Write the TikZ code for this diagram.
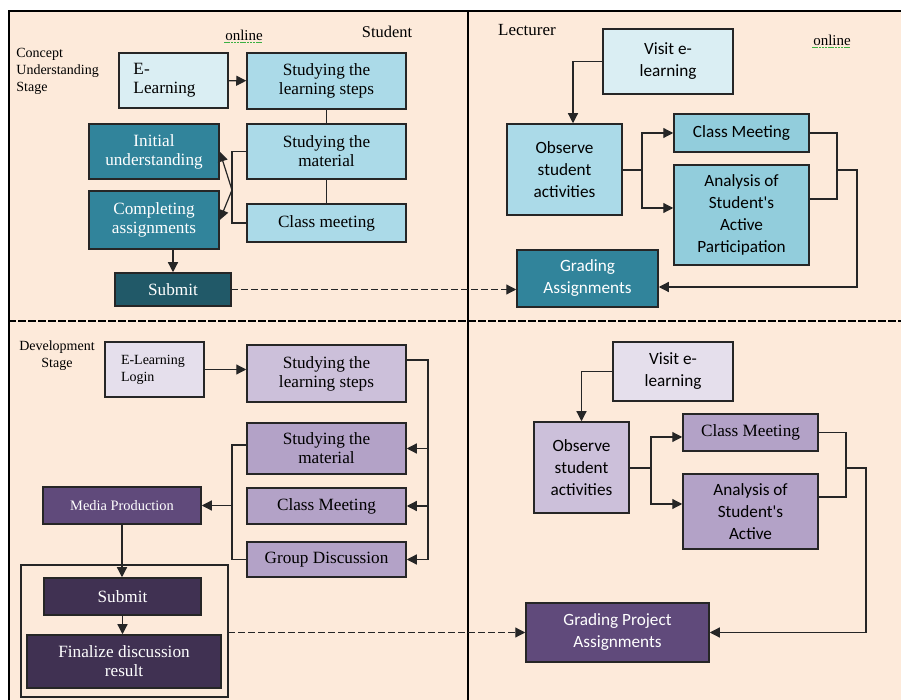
\documentclass[tikz,border=0pt]{standalone}
\usepackage{fontspec}
\setmainfont{Liberation Serif}
\newfontfamily\calib{Carlito}
\usepackage{xcolor}
\usepackage{tikz}
\usetikzlibrary{arrows.meta,positioning,fit,calc}
\definecolor{bgpeach}{HTML}{FDEADA}
\definecolor{aquapale}{HTML}{DAEEF3}
\definecolor{aqualight}{HTML}{ABDAE8}
\definecolor{aquamid}{HTML}{92CDDC}
\definecolor{tealdark}{HTML}{31849B}
\definecolor{tealdeep}{HTML}{215968}
\definecolor{lavpale}{HTML}{E5DFEC}
\definecolor{lavlight}{HTML}{CCC0DA}
\definecolor{lavmid}{HTML}{B3A2C7}
\definecolor{plumdark}{HTML}{604A7B}
\definecolor{plumdeep}{HTML}{403152}
\definecolor{squiggle}{HTML}{3CB043}

\begin{document}
\begin{tikzpicture}[
			x=0.5pt,
			y=-0.5pt,
			line cap=rect,
			box/.style={draw=black!85,line width=0.75pt,inner sep=1pt,align=center,
				font=\fontsize{8.6}{9.5}\selectfont},
			sbox/.style={box,font=\calib\fontsize{8.6}{11}\selectfont},
			lbl/.style={inner sep=0pt,font=\fontsize{7}{8.5}\selectfont},
			link/.style={draw=black!85,line width=0.6pt},
			arr/.style={link,-{Triangle[length=5pt,width=5pt]}},
			dashlink/.style={arr,dash pattern=on 3pt off 2pt}
			]
			
			\useasboundingbox (0,0) rectangle (901,700);
			
			%------------------------------
			% Page and lanes
			%------------------------------
			\fill[white] (0,0) rectangle (901,700);
			\fill[bgpeach] (9,11) rectangle (901,700);
			\draw[line width=1.2pt] (9,700) -- (9,11) -- (901,11);
			\draw[line width=0.6pt] (468,11) -- (468,700);
			\draw[line width=0.6pt,dash pattern=on 3pt off 2pt] (9,321) -- (901,321);
			
			%------------------------------
			% Concept understanding, student
			%------------------------------
			\node[lbl,anchor=west,align=left] (stageA) at (16,71) {Concept\\Understanding\\Stage};
			\node[lbl,font=\fontsize{7.5}{9}\selectfont] (onlA) at (244,35) {online};
			\draw[squiggle,densely dotted,line width=0.6pt] ([yshift=-1pt]onlA.south west) -- ([yshift=-1pt]onlA.south east);
			\node[lbl,font=\fontsize{8.2}{9}\selectfont] (studA) at (387,32) {Student};
			
			\node[box,fill=aquapale,minimum width=54.5pt,minimum height=27.5pt,text width=40pt,align=left] (elearnA) at (173.5,80.5) {E-\\Learning};
			\node[box,fill=aqualight,minimum width=79.5pt,minimum height=28pt] (stepsA) at (326.5,81) {Studying the\\learning steps};
			\node[box,fill=aqualight,minimum width=79.5pt,minimum height=27.5pt] (materialA) at (326.5,151.5) {Studying the\\material};
			\node[box,fill=aqualight,minimum width=79.5pt,minimum height=19pt] (meetA) at (326.5,223) {Class meeting};
			\node[box,fill=tealdark,text=white,minimum width=65pt,minimum height=27.5pt] (initA) at (154,151.5) {Initial\\understanding};
			\node[box,fill=tealdark,text=white,minimum width=65pt,minimum height=29pt] (compA) at (154,220) {Completing\\assignments};
			\node[box,fill=tealdeep,text=white,minimum width=58pt,minimum height=16.5pt] (submitA) at (173,289.5) {Submit};
			
			\coordinate (brA) at (232,190);
			\draw[arr] (elearnA) -- (stepsA);
			\draw[link] (stepsA) -- (materialA);
			\draw[link] (materialA) -- (meetA);
			\draw[link] (materialA.west) -| (brA) |- (meetA.west);
			\draw[arr] (brA) -- (initA.east);
			\draw[arr] (brA) -- (compA.east);
			\draw[arr] (compA.south -| submitA) -- (submitA.north);
			
			%------------------------------
			% Concept understanding, lecturer
			%------------------------------
			\node[lbl,font=\fontsize{8.5}{9}\selectfont] (lectA) at (527,30) {Lecturer};
			\node[lbl,font=\fontsize{7.5}{9}\selectfont] (onlB) at (832,40) {online};
			\draw[squiggle,densely dotted,line width=0.6pt] ([yshift=-1pt]onlB.south west) -- ([yshift=-1pt]onlB.south east);
			
			\node[sbox,fill=aquapale,minimum width=65pt,minimum height=32.5pt] (visitA) at (668,61.5) {Visit e-\\learning};
			\node[sbox,fill=aqualight,minimum width=57.5pt,minimum height=45.5pt] (obsA) at (564.5,169.5) {Observe\\student\\activities};
			\node[sbox,fill=aquamid,minimum width=67.5pt,minimum height=19pt] (cmA) at (741.5,133) {Class Meeting};
			\node[sbox,fill=aquamid,minimum width=67.5pt,minimum height=50pt] (anaA) at (741.5,215) {Analysis of\\Student's\\Active\\Participation};
			\node[sbox,fill=tealdark,text=white,minimum width=70.5pt,minimum height=28.5pt] (gradeA) at (587.5,278.5) {Grading\\Assignments};
			
			\coordinate (brC) at (642,170);
			\coordinate (mgC) at (837,170);
			\coordinate (rtC) at (857,170);
			\draw[arr] (visitA.west) -| ([xshift=4.25pt]obsA.north);
			\draw[link] (obsA.east |- brC) -- (brC);
			\draw[arr] (brC) |- (cmA.west);
			\draw[arr] (brC) |- ([yshift=3.5pt]anaA.west);
			\draw[link] (cmA.east) -| (mgC) |- ([yshift=8pt]anaA.east);
			\draw[arr] (mgC) -- (rtC) |- ([yshift=-4.25pt]gradeA.east);
			\draw[dashlink] (submitA.east) -- (submitA.east -| gradeA.west);
			
			%------------------------------
			% Development, student
			%------------------------------
			\node[lbl,align=center] (stageB) at (57,356) {Development\\Stage};
			\node[box,fill=lavpale,minimum width=49.5pt,minimum height=27.5pt,text width=33.5pt,align=left,
				font=\fontsize{7}{8.5}\selectfont] (loginB) at (154.5,369.5) {E-Learning\\Login};
			\node[box,fill=lavlight,minimum width=79.5pt,minimum height=28.5pt] (stepsB) at (326.5,373.5) {Studying the\\learning steps};
			\node[box,fill=lavmid,minimum width=79.5pt,minimum height=25.5pt] (materialB) at (326.5,448.5) {Studying the\\material};
			\node[box,fill=lavmid,minimum width=79.5pt,minimum height=18pt] (meetB) at (326.5,506) {Class Meeting};
			\node[box,fill=lavmid,minimum width=79.5pt,minimum height=17.5pt] (groupB) at (326.5,559.5) {Group Discussion};
			\node[box,fill=plumdark,text=white,minimum width=79pt,minimum height=18.5pt,
				font=\fontsize{7.2}{8}\selectfont] (mediaB) at (122,505.5) {Media Production};
			\node[box,fill=plumdeep,text=white,minimum width=78.5pt,minimum height=18.5pt] (submitB) at (122.5,596.5) {Submit};
			\node[box,fill=plumdeep,text=white,minimum width=97pt,minimum height=26.5pt] (finalB) at (124,661.5) {Finalize discussion\\result};
			\node[draw=black!85,line width=0.6pt,inner sep=0pt,fit={(21,565) (228,697)}] (grpB) {};
			
			\coordinate (busB) at (428,360);
			\coordinate (lbB) at (232,445);
			\draw[arr] (loginB.east) -- (loginB.east -| stepsB.west);
			\draw[arr] (stepsB.east |- busB) -- (busB) |- (groupB.east);
			\draw[arr] (busB |- materialB) -- (materialB.east);
			\draw[arr] (busB |- meetB) -- (meetB.east);
			\draw[link] (materialB.west |- lbB) -- (lbB) |- (groupB.west);
			\draw[arr] (lbB |- mediaB) -- (mediaB.east);
			\draw[arr] (mediaB.south) -- (mediaB.south |- grpB.north) -- (submitB.north -| mediaB.south);
			\draw[arr] (submitB.south) -- (submitB.south |- finalB.north);
			
			%------------------------------
			% Development, lecturer
			%------------------------------
			\node[sbox,fill=lavpale,minimum width=60pt,minimum height=29.5pt] (visitB) at (673,371.5) {Visit e-\\learning};
			\node[sbox,fill=lavlight,minimum width=47.5pt,minimum height=45.5pt] (obsB) at (581.5,467.5) {Observe\\student\\activities};
			\node[box,fill=lavmid,minimum width=67.5pt,minimum height=18.5pt] (cmB) at (750.5,432.5) {Class Meeting};
			\node[sbox,fill=lavmid,minimum width=67.5pt,minimum height=37.5pt] (anaB) at (750.5,511.5) {Analysis of\\Student's\\Active};
			\node[sbox,fill=plumdark,text=white,minimum width=91.5pt,minimum height=29.5pt] (gradeB) at (617.5,632.5) {Grading Project\\Assignments};
			
			\coordinate (brD) at (651,468);
			\coordinate (mgD) at (846,468);
			\coordinate (rtD) at (866,468);
			\draw[arr] (visitB.west) -| (obsB.north);
			\draw[link] (obsB.east |- brD) -- (brD);
			\draw[arr] (brD) |- ([yshift=-2.25pt]cmB.west);
			\draw[arr] (brD) |- ([yshift=3.75pt]anaB.west);
			\draw[link] (cmB.east) -| (mgD) |- ([yshift=7.25pt]anaB.east);
			\draw[arr] (mgD) -- (rtD) |- (gradeB.east);
			\draw[dashlink] (grpB.east |- gradeB) -- (gradeB.west);
		\end{tikzpicture}
\end{document}
